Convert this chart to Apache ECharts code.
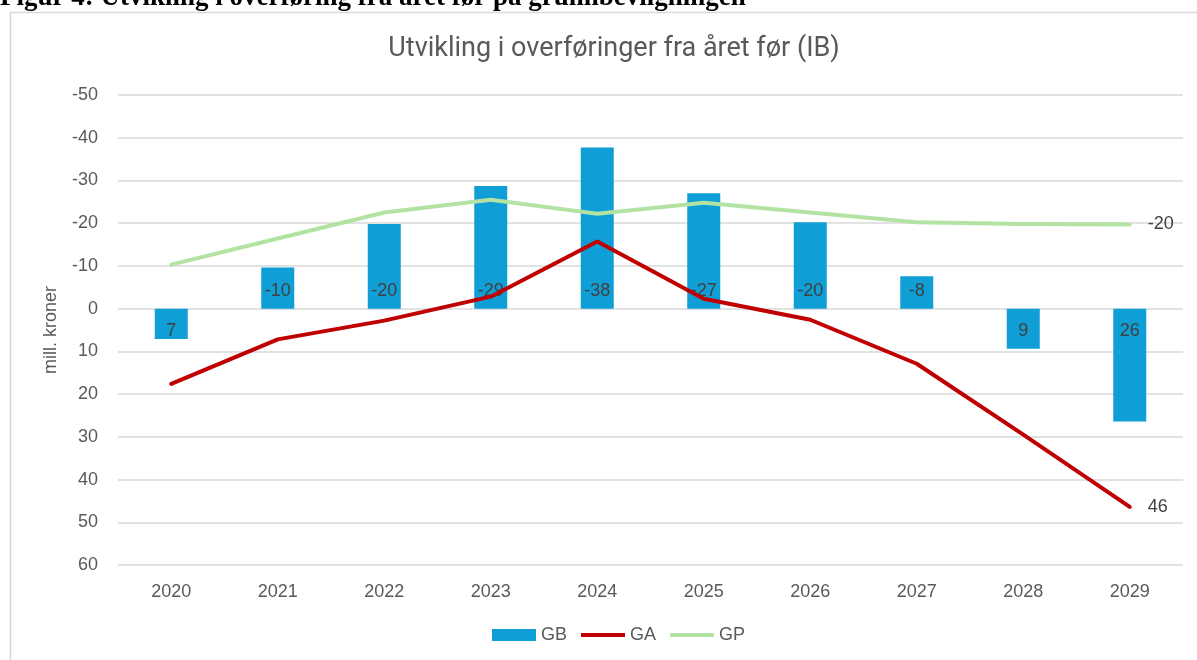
<!DOCTYPE html>
<html>
<head>
<meta charset="utf-8">
<script src="https://cdn.jsdelivr.net/npm/echarts@6/dist/echarts.min.js"></script>
<style>
html,body{margin:0;padding:0;background:#fff;}
#c{width:1197px;height:660px;}
</style>
</head>
<body>
<div id="c"></div>
<script>
const years = ['2020','2021','2022','2023','2024','2025','2026','2027','2028','2029'];
const gb = [7.1, -9.6, -19.8, -28.7, -37.7, -27.0, -20.2, -7.6, 9.4, 26.4];
const ga = [17.6, 7.2, 2.8, -2.8, -15.7, -2.3, 2.6, 12.9, 29.5, 46.4];
const gp = [-10.3, -16.4, -22.5, -25.5, -22.2, -24.8, -22.5, -20.2, -19.8, -19.7];
const yTicks = {min: -50, max: 60, interval: 10};

const txt = '#595959';
const FONT = 'Liberation Sans';
const chart = echarts.init(document.getElementById('c'));
const endLbl = {show: true, distance: 18, color: '#404040', fontSize: 18, fontFamily: FONT,
                formatter: p => Math.round(p.value)};

chart.setOption({
  animation: false,
  graphic: [
    {type: 'rect', shape: {x: 10.5, y: 12.5, width: 1300, height: 700},
     style: {fill: 'none', stroke: '#d9d9d9', lineWidth: 1.5}, z: -1},
    {type: 'text', left: 0, top: -15,
     style: {text: 'Figur 4: Utvikling i overføring fra året før på grunnbevilgningen',
             font: 'bold 27px "Liberation Serif"', fill: '#000'}}
  ],
  title: {
    text: 'Utvikling i overføringer fra året før (IB)',
    left: 609, top: 31, textAlign: 'center',
    textStyle: {color: txt, fontSize: 27, fontWeight: 'normal', fontFamily: 'Roboto'}
  },
  legend: {
    bottom: 11, left: 487, itemGap: 14, itemWidth: 44, itemHeight: 12,
    textStyle: {color: txt, fontSize: 18, fontFamily: FONT},
    data: [
      {name: 'GB', icon: 'rect'},
      {name: 'GA', icon: 'path://M0,4 L44,4 L44,8 L0,8 Z', itemStyle: {color: '#c00000'}},
      {name: 'GP', icon: 'path://M0,4 L44,4 L44,8 L0,8 Z', itemStyle: {color: '#b3e3a3'}}
    ]
  },
  grid: {left: 118, right: 14, top: 95, bottom: 95, containLabel: false},
  xAxis: {
    type: 'category', data: years,
    axisLine: {show: false}, axisTick: {show: false},
    axisLabel: {color: txt, fontSize: 18, margin: 18, fontFamily: FONT}
  },
  yAxis: {
    type: 'value', inverse: true, min: yTicks.min, max: yTicks.max, interval: yTicks.interval,
    name: 'mill. kroner', nameLocation: 'middle', nameGap: 58, nameRotate: 90,
    nameTextStyle: {color: txt, fontSize: 18, fontFamily: FONT},
    axisLine: {show: false}, axisTick: {show: false},
    axisLabel: {color: txt, fontSize: 18, margin: 20, fontFamily: FONT},
    splitLine: {lineStyle: {color: '#d9d9d9', width: 1.5}}
  },
  series: [
    {
      name: 'GB', type: 'bar', barWidth: 33,
      itemStyle: {color: '#109ed6'},
      data: gb.map(v => ({
        value: v,
        label: {show: true, position: v < 0 ? 'insideBottom' : 'insideTop',
                distance: v < 0 ? 9 : 13,
                color: '#404040', fontSize: 18, fontFamily: FONT,
                formatter: p => Math.round(p.value)}
      })),
      z: 1
    },
    {
      name: 'GA', type: 'line', symbol: 'none', z: 3,
      lineStyle: {color: '#c00000', width: 4, cap: 'round', join: 'round'},
      itemStyle: {color: '#c00000'},
      endLabel: endLbl,
      data: ga
    },
    {
      name: 'GP', type: 'line', symbol: 'none', z: 2,
      lineStyle: {color: '#b3e3a3', width: 4, cap: 'round', join: 'round'},
      itemStyle: {color: '#b3e3a3'},
      endLabel: endLbl,
      data: gp
    }
  ]
});
</script>
</body>
</html>
